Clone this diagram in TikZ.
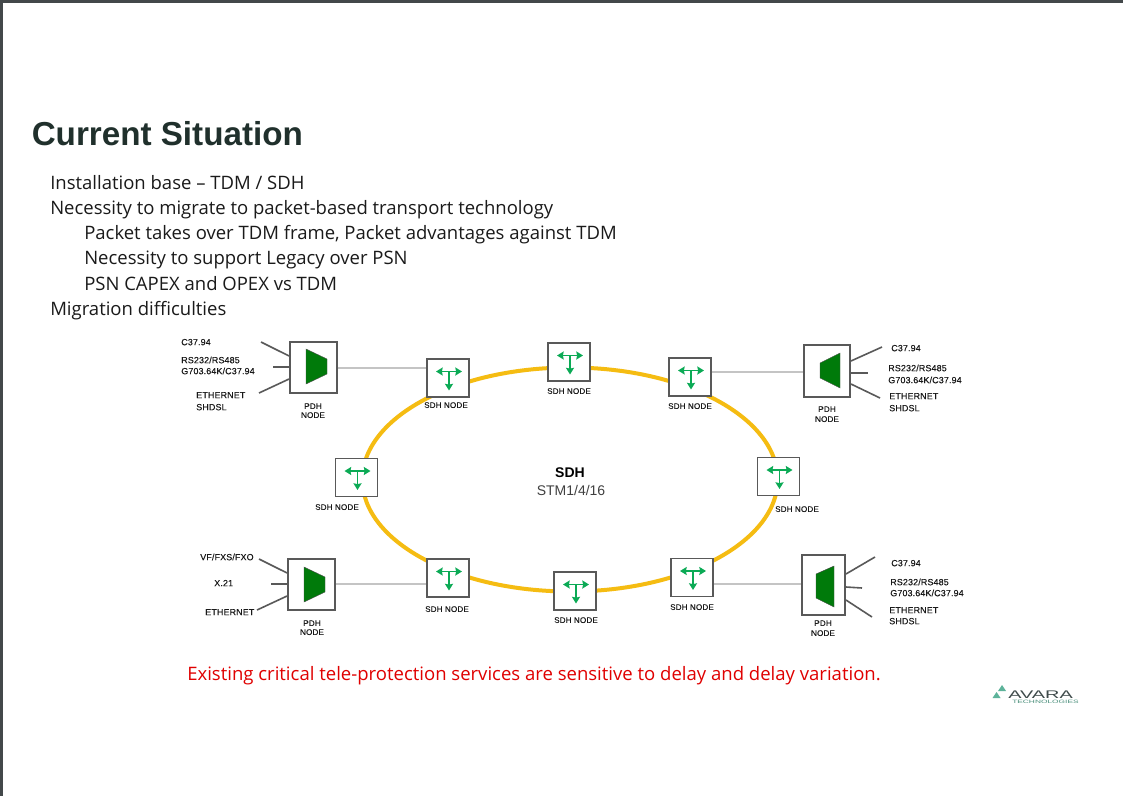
\documentclass[tikz,border=0pt]{standalone}
\usepackage{fontspec}
\setmainfont{Open Sans}
\newfontfamily\arialf{Liberation Sans}
\newfontfamily\labf[FakeBold=0.2,LetterSpace=1.5]{Liberation Sans}
\usetikzlibrary{arrows.meta,shapes.geometric}
\definecolor{ringc}{HTML}{F5BC12}
\definecolor{boxc}{HTML}{595959}
\definecolor{linkc}{HTML}{C4C4C4}
\definecolor{arrowc}{HTML}{0BAA55}
\definecolor{trapc}{HTML}{007A0A}
\definecolor{titlec}{HTML}{20302C}
\definecolor{bodyc}{HTML}{1A1A1A}
\definecolor{framec}{HTML}{43484A}
\definecolor{logoc}{HTML}{3E4A4A}
\definecolor{logog}{HTML}{5DB39A}
\tikzset{
  sdhbox/.style={draw=boxc,line width=1.4pt,fill=white,rectangle,inner sep=0pt,minimum width=31.5pt,minimum height=28.5pt},
  pdhbox/.style={draw=boxc,line width=1.4pt,fill=white,rectangle,inner sep=0pt},
  link/.style={draw=linkc,line width=1.4pt},
  stub/.style={draw=boxc,line width=1.2pt},
  trap/.style={fill=trapc,draw=black!70,line width=0.3pt},
  garrow/.style={draw=arrowc,line width=1.3pt,-{Stealth[length=5pt,width=6pt,inset=0.6pt]}},
  lab/.style={font=\labf\fontsize{6.7pt}{8pt}\selectfont,text=black!90,inner sep=0pt,anchor=west,text height=4.8pt,text depth=0pt},
  clab/.style={font=\labf\fontsize{6.1pt}{7pt}\selectfont,text=black!90,inner sep=0pt,anchor=center,text height=4.4pt,text depth=0pt},
  bline/.style={font=\fontsize{13.88pt}{16pt}\selectfont,text=bodyc,inner sep=0pt,anchor=base west},
}
\newcommand{\sdhnode}[5]{% name x y labelx labely
  \node[sdhbox] (#1) at (#2,#3) {};
  \coordinate (#1h) at (#2+1,#3-6.5);
  \coordinate (#1l) at (#2-12,#3-6.5);
  \coordinate (#1r) at (#2+14,#3-6.5);
  \coordinate (#1d) at (#2+1,#3+12.5);
  \draw[garrow] (#1h) -- (#1l);
  \draw[garrow] (#1h) -- (#1r);
  \draw[garrow] (#1h) -- (#1d);
  \node[clab] (#1t) at (#4,#5) {SDH NODE};
}
\newcommand{\pdhnode}[5]{% name x1 y1 x2 y2
  \node[pdhbox,minimum width={(#4-#2)*0.75pt},minimum height={(#5-#3)*0.75pt}] (#1) at ({(#2+#4)/2},{(#3+#5)/2}) {};
}
\begin{document}
\begin{tikzpicture}[x=0.75pt,y=-0.75pt]
\useasboundingbox (0,0) rectangle (1123,796);
\fill[white] (0,0) rectangle (1123,796);
\fill[framec] (0,0) rectangle (1123,2.5);
\fill[framec] (0,0) rectangle (2.5,796);

\node[font=\arialf\bfseries\fontsize{24.9pt}{28pt}\selectfont,text=titlec,inner sep=0pt,anchor=base west] (title) at (31.5,145) {Current Situation};
\node[bline] (b1) at (50,189) {Installation base – TDM / SDH};
\node[bline] (b2) at (50,214) {Necessity to migrate to packet-based transport technology};
\node[bline] (b3) at (84,239) {Packet takes over TDM frame, Packet advantages against TDM};
\node[bline] (b4) at (84,264) {Necessity to support Legacy over PSN};
\node[bline] (b5) at (84,290) {PSN CAPEX and OPEX vs TDM};
\node[bline] (b6) at (50,315) {Migration difficulties};

\node[draw=ringc,line width=3pt,ellipse,inner sep=0pt,minimum width=311.5pt,minimum height=168pt] (ring) at (570,479.5) {};

\node[font=\arialf\bfseries\fontsize{10.5pt}{12pt}\selectfont,text=black,inner sep=0pt] (sdh) at (570,473) {SDH};
\node[font=\arialf\fontsize{10.5pt}{12pt}\selectfont,text=black!75,inner sep=0pt] (stm) at (571,490) {STM1/4/16};

\sdhnode{sa}{448}{378}{446}{405}
\sdhnode{sb}{569}{362}{569}{391}
\sdhnode{sc}{690}{377}{690}{406}
\sdhnode{sd}{356.5}{477.5}{337}{507}
\sdhnode{se}{778.5}{476.5}{797}{509}
\sdhnode{sf}{448}{578}{447}{609}
\sdhnode{sg}{575}{591}{576}{620}
\sdhnode{sh}{692}{577.5}{692}{607}

\pdhnode{pa}{290}{342}{337}{393}
\pdhnode{pb}{804}{345}{850}{397}
\pdhnode{pc}{288}{559}{335}{610}
\pdhnode{pd}{802}{555}{845}{615}

\draw[trap] (306,349) -- (327,359) -- (327,374) -- (306,384) -- cycle;
\draw[trap] (840,353) -- (820,363) -- (820,378) -- (840,388) -- cycle;
\draw[trap] (304,567) -- (325,577) -- (325,592) -- (304,602) -- cycle;
\draw[trap] (834,566) -- (816,574) -- (816,598) -- (834,607) -- cycle;

\draw[link] (pa.east |- 0,368) -- (sa.west |- 0,368);
\draw[link] (sc.east |- 0,372) -- (pb.west |- 0,372);
\draw[link] (pc.east |- 0,584) -- (sf.west |- 0,584);
\draw[link] (sh.east |- 0,584) -- (pd.west |- 0,584);

\coordinate (a1) at (261,342); \coordinate (a2) at (273,367); \coordinate (a3) at (259,393);
\draw[stub] (a1) -- (pa.west |- 0,356);
\draw[stub] (a2) -- (pa.west |- 0,367);
\draw[stub] (a3) -- (pa.west |- 0,379);
\coordinate (b1e) at (882,347); \coordinate (b2e) at (868,373); \coordinate (b3e) at (880,398);
\draw[stub] (pb.east |- 0,361) -- (b1e);
\draw[stub] (pb.east |- 0,373) -- (b2e);
\draw[stub] (pb.east |- 0,384) -- (b3e);
\coordinate (c1) at (259,559); \coordinate (c2) at (271,584); \coordinate (c3) at (257,610);
\draw[stub] (c1) -- (pc.west |- 0,573);
\draw[stub] (c2) -- (pc.west |- 0,584);
\draw[stub] (c3) -- (pc.west |- 0,596);
\coordinate (d1) at (875,557); \coordinate (d2) at (862,588); \coordinate (d3) at (872,617);
\draw[stub] (pd.east |- 0,574) -- (d1);
\draw[stub] (pd.east |- 0,587) -- (d2);
\draw[stub] (pd.east |- 0,600) -- (d3);

\node[lab] (l1) at (181,342) {C37.94};
\node[lab] (l2) at (181,360) {RS232/RS485};
\node[lab] (l3) at (181,371) {G703.64K/C37.94};
\node[lab] (l4) at (196,395) {ETHERNET};
\node[lab] (l5) at (196,407) {SHDSL};
\node[clab] (l6) at (313,406) {PDH};
\node[clab] (l7) at (313,415) {NODE};

\node[lab] (m1) at (891,348) {C37.94};
\node[lab] (m2) at (888,368) {RS232/RS485};
\node[lab] (m3) at (888,380) {G703.64K/C37.94};
\node[lab] (m4) at (889,396) {ETHERNET};
\node[lab] (m5) at (889,408) {SHDSL};
\node[clab] (m6) at (827,409) {PDH};
\node[clab] (m7) at (827,419) {NODE};

\node[lab] (n1) at (200,557) {VF/FXS/FXO};
\node[lab] (n2) at (214,583) {X.21};
\node[lab] (n3) at (205,612) {ETHERNET};
\node[clab] (n6) at (312,623) {PDH};
\node[clab] (n7) at (312,632) {NODE};

\node[lab] (o1) at (891,563) {C37.94};
\node[lab] (o2) at (890,582) {RS232/RS485};
\node[lab] (o3) at (890,593) {G703.64K/C37.94};
\node[lab] (o4) at (889,610) {ETHERNET};
\node[lab] (o5) at (889,621) {SHDSL};
\node[clab] (o6) at (823,623) {PDH};
\node[clab] (o7) at (823,633) {NODE};

\node[font=\fontsize{13.9pt}{16pt}\selectfont,text=red!88!black,inner sep=0pt,anchor=base west] (warn) at (187,680) {Existing critical tele-protection services are sensitive to delay and delay variation.};

\fill[logog] (1002,685) -- (1006,691) -- (998,691) -- cycle;
\fill[logog] (996.5,692) -- (1000.5,698) -- (992.5,698) -- cycle;
\node[font=\arialf\fontsize{8.3pt}{9pt}\selectfont,text=logoc,inner sep=0pt,anchor=base west,text height=5.5pt,text depth=0pt] (logo) at (1008,698.3) {\scalebox{1.8}[1]{AVARA}};
\node[font=\arialf\fontsize{3.6pt}{4pt}\selectfont,text=logog!80!black,inner sep=0pt,anchor=base west,text height=2.4pt,text depth=0pt] (logot) at (1012,703.5) {\scalebox{1.74}[1]{TECHNOLOGIES}};
\end{tikzpicture}
\end{document}
